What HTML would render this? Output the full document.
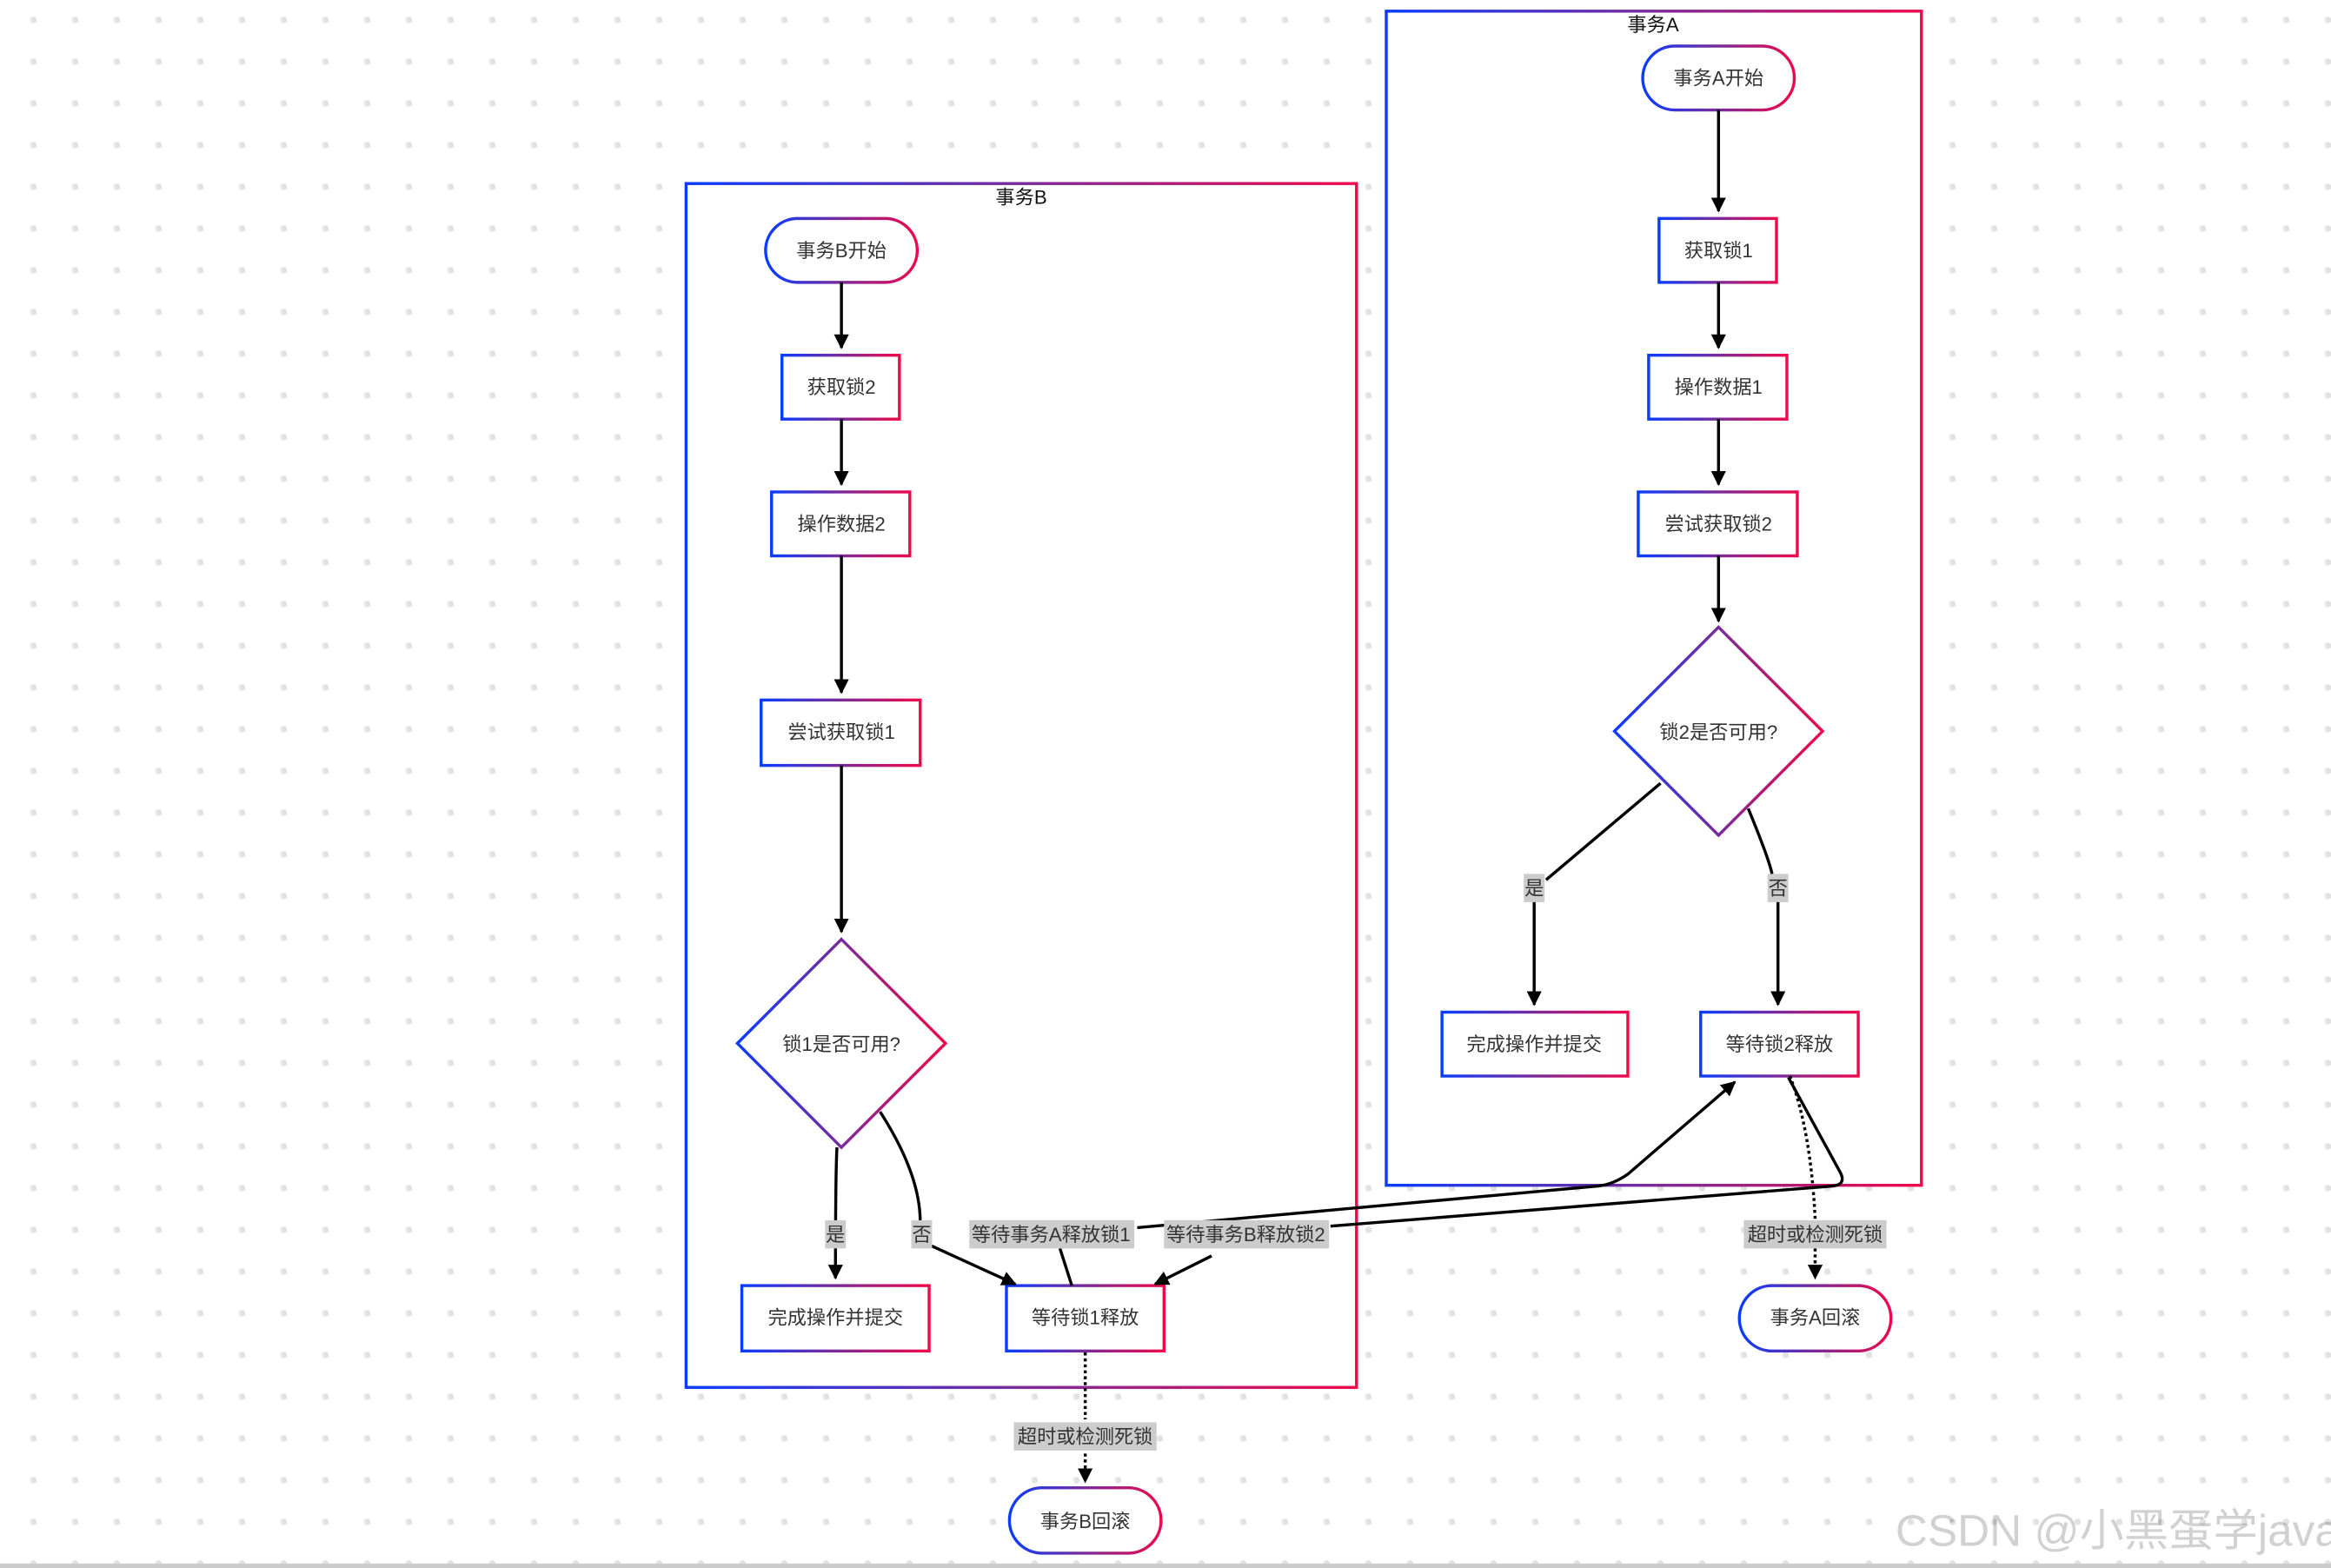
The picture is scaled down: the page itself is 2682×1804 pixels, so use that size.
<!DOCTYPE html>
<html><head><meta charset="utf-8"><style>
html,body{margin:0;padding:0;}
body{width:2682px;height:1804px;overflow:hidden;background-color:#fff;
background-image:radial-gradient(circle,#e2e2e6 3.5px,transparent 4px);
background-size:48px 48px;background-position:14.5px -1px;position:relative;}
svg{position:absolute;left:0;top:0;}
text{font-family:"Liberation Sans","Noto Sans CJK SC",sans-serif;}
</style></head><body>
<svg width="2682" height="1804" viewBox="0 0 1568 1055" preserveAspectRatio="none" xmlns="http://www.w3.org/2000/svg">
<defs>
<linearGradient id="g" x1="0" y1="0" x2="1" y2="0"><stop offset="0" stop-color="#0a3cff"/><stop offset="0.5" stop-color="#7a2a9a"/><stop offset="1" stop-color="#f0084a"/></linearGradient>
<marker id="a" viewBox="0 0 10 10" refX="9" refY="5" markerWidth="5" markerHeight="5" orient="auto"><path d="M0,0L10,5L0,10z" fill="#000"/></marker>
</defs>
<rect x="0" y="1052" width="1568" height="3" fill="#ccc"/>
<g fill="#fff" stroke="url(#g)" stroke-width="2">
<rect x="461.5" y="123.5" width="451" height="810"/>
<rect x="932.5" y="7.5" width="360" height="790"/>
</g>
<g font-size="13" text-anchor="middle" fill="#111">
<text x="687" y="137">事务B</text><text x="1112" y="21">事务A</text>
</g>
<g fill="#fff" stroke="url(#g)" stroke-width="2">
<rect x="515" y="147" width="102" height="43" rx="21.5"/>
<rect x="526" y="239" width="79" height="43"/>
<rect x="519" y="331" width="93" height="43"/>
<rect x="512" y="471" width="107" height="44"/>
<path d="M566,632L636,702L566,772L496,702z"/>
<rect x="499" y="865" width="126" height="44"/>
<rect x="677" y="865" width="106" height="44"/>
<rect x="679" y="1001" width="102" height="44" rx="22"/>
<rect x="1105" y="31" width="102" height="43" rx="21.5"/>
<rect x="1116" y="147" width="79" height="43"/>
<rect x="1109" y="239" width="93" height="43"/>
<rect x="1102" y="331" width="107" height="43"/>
<path d="M1156,422L1226,492L1156,562L1086,492z"/>
<rect x="970" y="681" width="125" height="43"/>
<rect x="1144" y="681" width="106" height="43"/>
<rect x="1170" y="865" width="102" height="44" rx="22"/>
</g>
<g fill="none" stroke="#000" stroke-width="2">
<path d="M566,190V234" marker-end="url(#a)"/>
<path d="M566,282V326" marker-end="url(#a)"/>
<path d="M566,374V466" marker-end="url(#a)"/>
<path d="M566,515V627" marker-end="url(#a)"/>
<path d="M563,772Q562,790 562,860" marker-end="url(#a)"/>
<path d="M592,748Q619,790 619,822"/>
<path d="M626,838L683,864" marker-end="url(#a)"/>
<path d="M713,840L721,865"/>
<path d="M765,826L1075,798Q1085,797 1095,790L1167,728" marker-end="url(#a)"/>
<path d="M815,845L777,864" marker-end="url(#a)"/>
<path d="M895,825L1233,798Q1242,797 1238,789L1203,725"/>
<path d="M730,910V955" stroke-dasharray="2,2"/>
<path d="M730,978V997" stroke-dasharray="2,2" marker-end="url(#a)"/>
<path d="M1156,74V142" marker-end="url(#a)"/>
<path d="M1156,190V234" marker-end="url(#a)"/>
<path d="M1156,282V326" marker-end="url(#a)"/>
<path d="M1156,374V418" marker-end="url(#a)"/>
<path d="M1117,527L1040,592"/>
<path d="M1032,606V676" marker-end="url(#a)"/>
<path d="M1176,544Q1190,578 1192,588"/>
<path d="M1196,606V676" marker-end="url(#a)"/>
<path d="M1204,724Q1218,760 1221,820" stroke-dasharray="2,2"/>
<path d="M1221,840V860" stroke-dasharray="2,2" marker-end="url(#a)"/>
</g>
<g fill="#cccccc">
<rect x="555" y="821" width="14" height="19"/><rect x="613" y="821" width="14" height="19"/>
<rect x="652" y="821" width="111" height="19"/><rect x="783" y="821" width="111" height="19"/>
<rect x="682" y="957" width="96" height="19"/><rect x="1173" y="821" width="96" height="19"/>
<rect x="1025" y="588" width="14" height="19"/><rect x="1189" y="588" width="14" height="19"/>
</g>
<g font-size="13" text-anchor="middle" fill="#333">
<text x="562" y="835">是</text><text x="620" y="835">否</text>
<text x="707" y="835">等待事务A释放锁1</text><text x="838" y="835">等待事务B释放锁2</text>
<text x="730" y="971">超时或检测死锁</text><text x="1221" y="835">超时或检测死锁</text>
<text x="1032" y="602">是</text><text x="1196" y="602">否</text>
<text x="566" y="173">事务B开始</text><text x="566" y="265">获取锁2</text>
<text x="566" y="357">操作数据2</text><text x="566" y="497">尝试获取锁1</text>
<text x="566" y="707">锁1是否可用?</text><text x="562" y="891">完成操作并提交</text>
<text x="730" y="891">等待锁1释放</text><text x="730" y="1028">事务B回滚</text>
<text x="1156" y="57">事务A开始</text><text x="1156" y="173">获取锁1</text>
<text x="1156" y="265">操作数据1</text><text x="1156" y="357">尝试获取锁2</text>
<text x="1156" y="497">锁2是否可用?</text><text x="1032" y="707">完成操作并提交</text>
<text x="1197" y="707">等待锁2释放</text><text x="1221" y="891">事务A回滚</text>
</g>
<text x="1275" y="1040" font-size="30" fill="#000" fill-opacity="0.18">CSDN @小黑蛋学java</text>
</svg>
</body></html>
